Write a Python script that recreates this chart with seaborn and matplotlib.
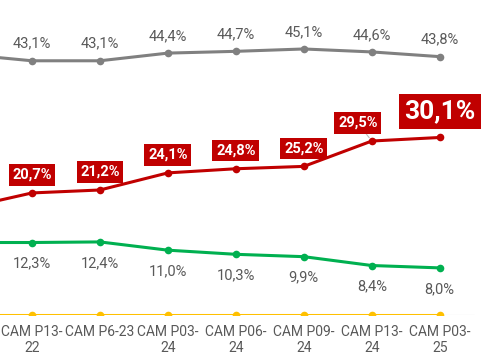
import matplotlib
matplotlib.use("Agg")
import matplotlib.pyplot as plt
import seaborn as sns
import pandas as pd

# periods (the first one is cut off on the left in the original)
periods = ["CAM P06-22", "CAM P13-\n22", "CAM P6-23", "CAM P03-\n24", "CAM P06-\n24",
           "CAM P09-\n24", "CAM P13-\n24", "CAM P03-\n25"]
grey_vals = [44.2, 43.1, 43.1, 44.4, 44.7, 45.1, 44.6, 43.8]
red_vals = [18.1, 20.7, 21.2, 24.1, 24.8, 25.2, 29.5, 30.1]
green_vals = [12.3, 12.3, 12.4, 11.0, 10.3, 9.9, 8.4, 8.0]
yellow_vals = [0, 0, 0, 0, 0, 0, 0, 0]

sns.set_style("white")
plt.rcParams["font.family"] = ["Roboto", "DejaVu Sans"]

fig = plt.figure(figsize=(4.88, 3.63), dpi=100)
ax = fig.add_axes([0, 0.132, 1, 0.868])

x = list(range(len(periods)))
series = [
    (grey_vals, "#808080"),
    (red_vals, "#c00000"),
    (green_vals, "#00b050"),
    (yellow_vals, "#ffc000"),
]
ax.hlines(0, 0, 7.5, color="#d0d0d0", lw=0.8, zorder=1)
for vals, col in series:
    df = pd.DataFrame({"x": x, "y": vals})
    sns.lineplot(data=df, x="x", y="y", color=col, lw=2.2, marker="o",
                 markersize=5.5, markeredgewidth=0, ax=ax, zorder=3)

def fmt(v):
    return f"{v:.1f}".replace(".", ",") + "%"

txt_col = "#595959"
for i in range(1, len(periods)):
    ax.annotate(fmt(grey_vals[i]), (i, grey_vals[i]), xytext=(0, 17),
                textcoords="offset pixels", ha="center", va="center",
                fontsize=10.5, color=txt_col)
    ax.annotate(fmt(green_vals[i]), (i, green_vals[i]), xytext=(0, -21),
                textcoords="offset pixels", ha="center", va="center",
                fontsize=10.5, color=txt_col)

red_box = dict(boxstyle="square,pad=0.25", fc="#c00000", ec="none")
for i in range(1, len(periods) - 2):
    ax.annotate(fmt(red_vals[i]), (i, red_vals[i]), xytext=(0, 18),
                textcoords="offset pixels", ha="center", va="center",
                fontsize=10.5, fontweight="bold", color="white", bbox=red_box)
i = len(periods) - 2
ax.annotate(fmt(red_vals[i]), (i, red_vals[i]), xytext=(-14, 18),
            textcoords="offset pixels", ha="center", va="center",
            fontsize=10.5, fontweight="bold", color="white", bbox=red_box,
            arrowprops=dict(arrowstyle="-", color="#bbbbbb", lw=0.8,
                            shrinkA=0, shrinkB=3))
i = len(periods) - 1
ax.annotate(fmt(red_vals[i]), (i, red_vals[i]), xytext=(0, 26),
            textcoords="offset pixels", ha="center", va="center",
            fontsize=19, fontweight="bold", color="white",
            bbox=dict(boxstyle="square,pad=0.2", fc="#c00000", ec="none"))

ax.set_xticks(x)
ax.set_xticklabels(periods, fontsize=10, color=txt_col, linespacing=1.2)
ax.tick_params(axis="x", length=0, pad=7)
ax.set_yticks([])
ax.set_xlim(0.53, 7.71)
ax.set_ylim(0, 53.4)
ax.set_xlabel("")
ax.set_ylabel("")
sns.despine(ax=ax, left=True, bottom=True)

fig.savefig("out.png", dpi=100)
